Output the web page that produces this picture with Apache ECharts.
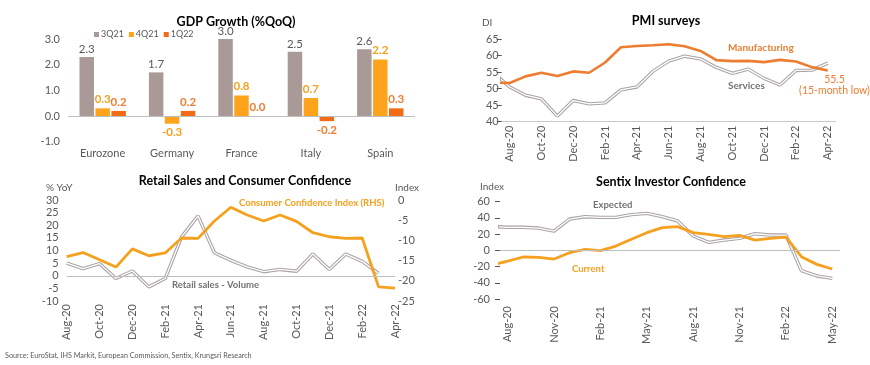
<!DOCTYPE html>
<html><head><meta charset="utf-8">
<script src="https://cdn.jsdelivr.net/npm/echarts@6/dist/echarts.min.js"></script>
<style>html,body{margin:0;padding:0;background:#fff}#c{width:870px;height:365px}</style>
</head><body><div id="c"></div>
<script>
// ---------- DATA ----------
const gdpCountries = ['Eurozone', 'Germany', 'France', 'Italy', 'Spain'];
const gdpSeriesNames = ['3Q21', '4Q21', '1Q22'];
const gdp3Q21 = [2.3, 1.7, 3.0, 2.5, 2.6];
const gdp4Q21 = [0.3, -0.3, 0.8, 0.7, 2.2];
const gdp1Q22 = [0.2, 0.2, 0.0, -0.2, 0.3];

const pmiMonths = ['Jul-20','Aug-20','Sep-20','Oct-20','Nov-20','Dec-20','Jan-21','Feb-21','Mar-21','Apr-21','May-21','Jun-21','Jul-21','Aug-21','Sep-21','Oct-21','Nov-21','Dec-21','Jan-22','Feb-22','Mar-22','Apr-22'];
const pmiManufacturing = [51.8, 51.7, 53.7, 54.8, 53.8, 55.2, 54.8, 57.9, 62.5, 62.9, 63.1, 63.4, 62.8, 61.4, 58.6, 58.3, 58.4, 58.0, 58.7, 58.2, 56.5, 55.5];
const pmiServices = [54.7, 50.5, 48.0, 46.9, 41.7, 46.4, 45.4, 45.7, 49.6, 50.5, 55.2, 58.3, 59.8, 59.0, 56.4, 54.6, 55.9, 53.1, 51.1, 55.5, 55.6, 57.7];
const pmiTickLabels = ['Aug-20','Oct-20','Dec-20','Feb-21','Apr-21','Jun-21','Aug-21','Oct-21','Dec-21','Feb-22','Apr-22'];

const retailMonths = ['Aug-20','Sep-20','Oct-20','Nov-20','Dec-20','Jan-21','Feb-21','Mar-21','Apr-21','May-21','Jun-21','Jul-21','Aug-21','Sep-21','Oct-21','Nov-21','Dec-21','Jan-22','Feb-22','Mar-22','Apr-22'];
const retailSalesVolume = [5.0, 2.8, 4.8, -1.1, 1.9, -4.4, -1.1, 15.4, 23.7, 9.1, 6.1, 3.5, 1.6, 2.5, 1.8, 8.6, 2.5, 8.6, 5.7, 0.9, null];
const consumerConfidence = [-14.0, -13.0, -14.8, -16.6, -12.1, -13.8, -13.1, -9.4, -9.5, -5.2, -1.8, -3.7, -5.2, -3.7, -5.3, -8.1, -9.1, -9.5, -9.4, -21.5, -21.8];

const sentixMonths = ['Jul-20','Aug-20','Sep-20','Oct-20','Nov-20','Dec-20','Jan-21','Feb-21','Mar-21','Apr-21','May-21','Jun-21','Jul-21','Aug-21','Sep-21','Oct-21','Nov-21','Dec-21','Jan-22','Feb-22','Mar-22','Apr-22','May-22'];
const sentixExpected = [29.4, 28.4, 28.4, 27.5, 23.8, 38.6, 41.5, 40.7, 40.7, 44.0, 45.6, 41.5, 36.2, 17.7, 9.9, 12.7, 14.8, 20.5, 18.9, 18.9, -25.0, -31.6, -34.5];
const sentixCurrent = [-18.0, -13.2, -8.2, -8.6, -10.7, -2.9, 1.2, -0.4, 5.3, 13.6, 21.8, 28.0, 29.2, 21.8, 19.7, 16.9, 18.5, 12.7, 14.8, 16.4, -7.8, -17.3, -23.0];
const sentixTickLabels = ['Aug-20','Nov-20','Feb-21','May-21','Aug-21','Nov-21','Feb-22','May-22'];

// ---------- STYLE ----------
const FONT = 'Lato';
const AX = '#595959';
const GREY_LINE = '#ABA3A3';
const ORANGE = '#ED7D31';
const AMBER = '#F5A01E';
const ZERO = '#BFBFBF';

const pairs = arr => arr.map((v, i) => [i, v]);
const idxOf = (months, labels) => labels.map(l => months.indexOf(l));
const axLabel = (extra) => Object.assign({ color: AX, fontFamily: FONT, fontSize: 11 }, extra || {});
const gdpData = arr => arr.map(v => ({ value: v, label: { position: v < 0 ? 'bottom' : 'top' } }));

function txt(x, y, text, font, fill, align) {
  return { type: 'text', x: x, y: y, silent: true,
    style: { text: text, font: font, fill: fill, textAlign: align || 'left', align: align || 'left', textVerticalAlign: 'middle', verticalAlign: 'middle' } };
}

const chart = echarts.init(document.getElementById('c'), null, { renderer: 'canvas' });

const option = {
  animation: false,
  backgroundColor: '#fff',
  textStyle: { fontFamily: FONT },
  title: [
    { text: 'GDP Growth (%QoQ)', left: 231, top: 10, textAlign: 'center', textStyle: { fontSize: 12.5, fontWeight: 'bold', color: '#000', fontFamily: FONT } },
    { text: 'PMI surveys', left: 661, top: 9, textAlign: 'center', textStyle: { fontSize: 12.5, fontWeight: 'bold', color: '#000', fontFamily: FONT } },
    { text: 'Retail Sales and Consumer Confidence', left: 240, top: 169, textAlign: 'center', textStyle: { fontSize: 12.5, fontWeight: 'bold', color: '#000', fontFamily: FONT } },
    { text: 'Sentix Investor Confidence', left: 666, top: 170, textAlign: 'center', textStyle: { fontSize: 12.5, fontWeight: 'bold', color: '#000', fontFamily: FONT } }
  ],
  legend: {
    data: gdpSeriesNames, left: 89, top: 25, icon: 'rect', itemWidth: 5, itemHeight: 5, itemGap: 5,
    textStyle: { fontSize: 9, color: AX, fontFamily: FONT, padding: [0, 0, 0, -3] }
  },
  grid: [
    { left: 68, top: 39, width: 347, height: 102.7, outerBoundsMode: 'none' },
    { left: 501.7, top: 39, width: 334, height: 82.7, outerBoundsMode: 'none' },
    { left: 66.7, top: 200, width: 328.3, height: 101, outerBoundsMode: 'none' },
    { left: 500, top: 201.7, width: 340, height: 97.3, outerBoundsMode: 'none' }
  ],
  xAxis: [
    { type: 'category', gridIndex: 0, data: gdpCountries, axisLine: { show: false, onZero: false }, axisTick: { show: false },
      axisLabel: axLabel({ margin: 6 }) },
    { type: 'value', gridIndex: 1, min: 0.5, max: pmiMonths.length - 0.5, splitLine: { show: false }, axisTick: { show: false },
      axisLine: { show: true, onZero: false, lineStyle: { color: '#C8C8C8', width: 1 } },
      axisLabel: axLabel({ rotate: 90, margin: 4, customValues: idxOf(pmiMonths, pmiTickLabels), formatter: v => pmiMonths[Math.round(v)] }) },
    { type: 'category', gridIndex: 2, data: retailMonths, boundaryGap: false, axisLine: { show: false, onZero: false }, axisTick: { show: false },
      axisLabel: axLabel({ rotate: 90, margin: 3, interval: 1 }) },
    { type: 'value', gridIndex: 3, min: 0.5, max: sentixMonths.length - 0.5, splitLine: { show: false }, axisTick: { show: false },
      axisLine: { show: false, onZero: false },
      axisLabel: axLabel({ rotate: 90, margin: 7, customValues: idxOf(sentixMonths, sentixTickLabels), formatter: v => sentixMonths[Math.round(v)] }) }
  ],
  yAxis: [
    { type: 'value', gridIndex: 0, min: -1, max: 3, interval: 1, splitLine: { show: false }, axisLine: { show: false },
      axisLabel: axLabel({ margin: 8, formatter: v => v.toFixed(1) }) },
    { type: 'value', gridIndex: 1, min: 40, max: 65, interval: 5, splitLine: { show: false }, axisLine: { show: false },
      axisLabel: axLabel({ margin: 3 }) },
    { type: 'value', gridIndex: 2, min: -10, max: 30, interval: 5, splitLine: { show: false }, axisLine: { show: false },
      axisLabel: axLabel({ margin: 8 }) },
    { type: 'value', gridIndex: 2, position: 'right', min: -25, max: 0, interval: 5, splitLine: { show: false }, axisLine: { show: false },
      axisLabel: axLabel({ margin: 3 }) },
    { type: 'value', gridIndex: 3, min: -60, max: 60, interval: 20, splitLine: { show: false }, axisLine: { show: false },
      axisLabel: axLabel({ margin: 10 }) }
  ],
  series: [
    // GDP bars
    { name: '3Q21', type: 'bar', xAxisIndex: 0, yAxisIndex: 0, data: gdpData(gdp3Q21), barWidth: 14.5, barGap: '10%',
      itemStyle: { color: '#A99A98' },
      label: { show: true, distance: 2, color: AX, fontSize: 11.5, fontFamily: FONT, formatter: p => p.value.toFixed(1) },
      markLine: { silent: true, symbol: ['none', 'none'], label: { show: false }, lineStyle: { color: ZERO, type: 'solid', width: 1 }, data: [{ yAxis: 0 }] } },
    { name: '4Q21', type: 'bar', xAxisIndex: 0, yAxisIndex: 0, data: gdpData(gdp4Q21), barWidth: 14.5, barGap: '10%',
      itemStyle: { color: '#FFA31C' },
      label: { show: true, distance: 3, color: AMBER, fontSize: 11.5, fontWeight: 'bold', fontFamily: FONT, formatter: p => p.value.toFixed(1) } },
    { name: '1Q22', type: 'bar', xAxisIndex: 0, yAxisIndex: 0, data: gdpData(gdp1Q22), barWidth: 14.5, barGap: '10%',
      itemStyle: { color: '#F26B16' },
      label: { show: true, distance: 3, color: ORANGE, fontSize: 11.5, fontWeight: 'bold', fontFamily: FONT, formatter: p => p.value.toFixed(1) } },

    // PMI
    { name: 'Services', type: 'line', xAxisIndex: 1, yAxisIndex: 1, data: pairs(pmiServices), symbol: 'none', clip: true,
      lineStyle: { color: GREY_LINE, width: 3.4 }, z: 2 },
    { name: 'Services-inner', type: 'line', xAxisIndex: 1, yAxisIndex: 1, data: pairs(pmiServices), symbol: 'none', clip: true,
      lineStyle: { color: '#FFFFFF', width: 1.3 }, z: 3 },
    { name: 'Manufacturing', type: 'line', xAxisIndex: 1, yAxisIndex: 1, data: pairs(pmiManufacturing), symbol: 'none', clip: true,
      lineStyle: { color: ORANGE, width: 2.6 }, z: 4 },

    // Retail / consumer confidence
    { name: 'Retail', type: 'line', xAxisIndex: 2, yAxisIndex: 2, data: retailSalesVolume, symbol: 'none',
      lineStyle: { color: GREY_LINE, width: 3.4 }, z: 2,
      markLine: { silent: true, symbol: ['none', 'none'], label: { show: false }, lineStyle: { color: ZERO, type: 'solid', width: 1 }, data: [{ yAxis: 0 }] } },
    { name: 'Retail-inner', type: 'line', xAxisIndex: 2, yAxisIndex: 2, data: retailSalesVolume, symbol: 'none',
      lineStyle: { color: '#FFFFFF', width: 1.3 }, z: 3 },
    { name: 'Consumer Confidence', type: 'line', xAxisIndex: 2, yAxisIndex: 3, data: consumerConfidence, symbol: 'none',
      lineStyle: { color: AMBER, width: 2.8 }, z: 4 },

    // Sentix
    { name: 'Expected', type: 'line', xAxisIndex: 3, yAxisIndex: 4, data: pairs(sentixExpected), symbol: 'none', clip: true,
      lineStyle: { color: GREY_LINE, width: 3.4 }, z: 2,
      markLine: { silent: true, symbol: ['none', 'none'], label: { show: false }, lineStyle: { color: ZERO, type: 'solid', width: 1 }, data: [{ yAxis: 0 }] } },
    { name: 'Expected-inner', type: 'line', xAxisIndex: 3, yAxisIndex: 4, data: pairs(sentixExpected), symbol: 'none', clip: true,
      lineStyle: { color: '#FFFFFF', width: 1.3 }, z: 3 },
    { name: 'Current', type: 'line', xAxisIndex: 3, yAxisIndex: 4, data: pairs(sentixCurrent), symbol: 'none', clip: true,
      lineStyle: { color: AMBER, width: 2.8 }, z: 4 }
  ],
  graphic: [
    txt(482, 23, 'DI', '10px ' + FONT, AX),
    txt(728, 47.5, 'Manufacturing', 'bold 10px ' + FONT, ORANGE),
    txt(728, 86, 'Services', 'bold 10px ' + FONT, '#767171'),
    txt(834.5, 79.5, '55.5', '10.5px ' + FONT, ORANGE, 'center'),
    txt(834.5, 91, '(15-month low)', '10.5px ' + FONT, ORANGE, 'center'),
    txt(46, 187.5, '% YoY', '10px ' + FONT, AX),
    txt(395, 187.5, 'Index', '10px ' + FONT, AX),
    txt(239, 202.5, 'Consumer Confidence Index (RHS)', 'bold 9.5px ' + FONT, AMBER),
    txt(172, 284.5, 'Retail sales - Volume', 'bold 9.5px ' + FONT, '#767171'),
    txt(480, 186.5, 'Index', '10px ' + FONT, AX),
    txt(593, 205, 'Expected', 'bold 9.5px ' + FONT, '#767171'),
    txt(572, 268.5, 'Current', 'bold 9.5px ' + FONT, AMBER),
    txt(5, 355.5, 'Source: EuroStat, IHS Markit, European Commission, Sentix, Krungsri Research', '7.2px ' + FONT, AX)
  ]
};
chart.setOption(option);
</script>
</body></html>
